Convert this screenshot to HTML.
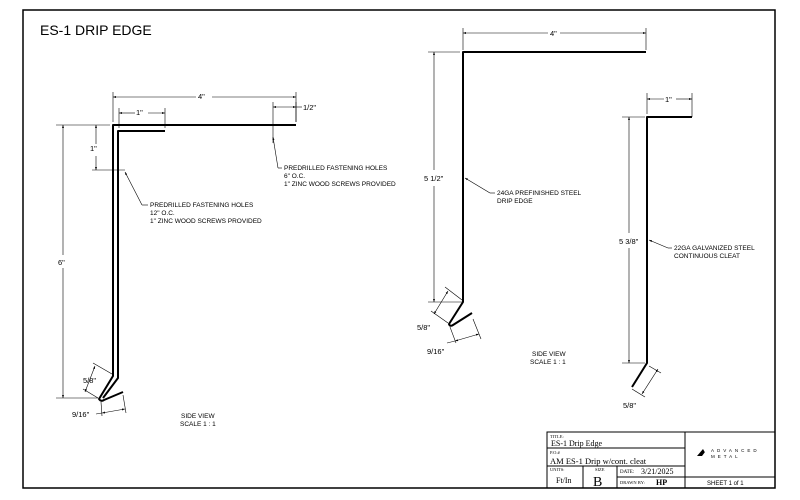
<!DOCTYPE html>
<html><head><meta charset="utf-8"><style>
html,body{margin:0;padding:0;background:#fff}
svg{display:block}
text{font-family:"Liberation Sans",sans-serif;fill:#000}
.s{font-size:6.5px}
.d{font-size:7.5px}
.th{stroke:#000;stroke-width:0.6;fill:none}
.k{stroke:#000;stroke-width:2;fill:none;stroke-linejoin:round}
</style></head><body>
<svg width="800" height="500" viewBox="0 0 800 500" xmlns="http://www.w3.org/2000/svg">
<defs><marker id="a" viewBox="0 0 6 6" refX="6" refY="3" markerWidth="5" markerHeight="5" orient="auto-start-reverse"><path d="M0,1 L6,3 L0,5z" fill="#000"/></marker></defs>
<rect x="23" y="10" width="752" height="478" fill="none" stroke="#000" stroke-width="1.5"/>
<text x="40" y="35" style="font-size:14px">ES-1 DRIP EDGE</text>

<!-- LEFT DRAWING -->
<path class="k" d="M296,125 H113 V376 L99,399 Q101,402 104,400 L123,392"/>
<path class="k" d="M165,131 H118 V378 L103,398"/>
<g class="th">
<line x1="113" y1="92" x2="113" y2="122"/><line x1="296" y1="92" x2="296" y2="122"/>
<line x1="113" y1="97" x2="196" y2="97" marker-start="url(#a)"/><line x1="212" y1="97" x2="296" y2="97" marker-end="url(#a)"/>
<line x1="119" y1="108" x2="119" y2="128"/><line x1="165" y1="108" x2="165" y2="128"/>
<line x1="119" y1="113" x2="135" y2="113" marker-start="url(#a)"/><line x1="148" y1="113" x2="165" y2="113" marker-end="url(#a)"/>
<line x1="273" y1="102" x2="273" y2="143"/><line x1="296" y1="102" x2="296" y2="122"/>
<line x1="273" y1="107" x2="296" y2="107" marker-start="url(#a)" marker-end="url(#a)"/><line x1="296" y1="107" x2="302" y2="107"/>
<line x1="56" y1="125" x2="110" y2="125"/><line x1="56" y1="398" x2="98" y2="398"/>
<line x1="63" y1="125" x2="63" y2="255" marker-start="url(#a)"/><line x1="63" y1="268" x2="63" y2="398" marker-end="url(#a)"/>
<line x1="92" y1="170" x2="125" y2="170"/>
<line x1="96" y1="125" x2="96" y2="144" marker-start="url(#a)"/><line x1="96" y1="156" x2="96" y2="170" marker-end="url(#a)"/>
<line x1="148" y1="205" x2="142" y2="205"/><line x1="142" y1="205" x2="125" y2="172" marker-end="url(#a)"/>
<line x1="282" y1="168" x2="278" y2="168"/><line x1="278" y1="168" x2="273" y2="137" marker-end="url(#a)"/>
<line x1="93" y1="363" x2="112" y2="374"/><line x1="83" y1="389" x2="98" y2="398"/>
<line x1="95" y1="366" x2="85" y2="392" marker-start="url(#a)" marker-end="url(#a)"/>
<line x1="101" y1="402" x2="102" y2="416"/><line x1="123" y1="395" x2="126" y2="413"/>
<line x1="102" y1="413" x2="125" y2="409" marker-start="url(#a)" marker-end="url(#a)"/><line x1="96" y1="414" x2="102" y2="413"/>
</g>
<text class="d" x="198" y="99">4"</text>
<text class="d" x="136" y="115">1"</text>
<text class="d" x="303" y="110">1/2"</text>
<text class="d" x="58" y="265">6"</text>
<text class="d" x="90" y="151">1"</text>
<text class="d" x="83" y="383">5/8"</text>
<text class="d" x="72" y="417">9/16"</text>
<text class="s" x="150" y="207">PREDRILLED FASTENING HOLES</text>
<text class="s" x="150" y="215">12" O.C.</text>
<text class="s" x="150" y="223">1" ZINC WOOD SCREWS PROVIDED</text>
<text class="s" x="284" y="170">PREDRILLED FASTENING HOLES</text>
<text class="s" x="284" y="178">6" O.C.</text>
<text class="s" x="284" y="186">1" ZINC WOOD SCREWS PROVIDED</text>
<text class="s" x="181" y="418">SIDE VIEW</text>
<text class="s" x="180" y="426">SCALE 1 : 1</text>

<!-- MIDDLE DRAWING -->
<path class="k" d="M646,52 H463 V302 L449,324 Q450,327 453,325 L472,313"/>
<g class="th">
<line x1="463" y1="28" x2="463" y2="50"/><line x1="646" y1="28" x2="646" y2="50"/>
<line x1="463" y1="33" x2="548" y2="33" marker-start="url(#a)"/><line x1="560" y1="33" x2="646" y2="33" marker-end="url(#a)"/>
<line x1="428" y1="52" x2="460" y2="52"/><line x1="428" y1="302" x2="462" y2="302"/>
<line x1="434" y1="52" x2="434" y2="170" marker-start="url(#a)"/><line x1="434" y1="186" x2="434" y2="302" marker-end="url(#a)"/>
<line x1="495" y1="193" x2="490" y2="193"/><line x1="490" y1="193" x2="465" y2="178" marker-end="url(#a)"/>
<line x1="445" y1="287" x2="462" y2="300"/><line x1="431" y1="311" x2="448" y2="323"/>
<line x1="448" y1="291" x2="434" y2="314" marker-start="url(#a)" marker-end="url(#a)"/>
<line x1="450" y1="327" x2="456" y2="343"/><line x1="473" y1="319" x2="481" y2="339"/>
<line x1="455" y1="341" x2="479" y2="334" marker-start="url(#a)" marker-end="url(#a)"/><line x1="447" y1="343" x2="455" y2="341"/>
</g>
<text class="d" x="550" y="36">4"</text>
<text class="d" x="424" y="181">5 1/2"</text>
<text class="d" x="417" y="330">5/8"</text>
<text class="d" x="427" y="354">9/16"</text>
<text class="s" x="497" y="195">24GA PREFINISHED STEEL</text>
<text class="s" x="497" y="203">DRIP EDGE</text>
<text class="s" x="532" y="356">SIDE VIEW</text>
<text class="s" x="530" y="364">SCALE 1 : 1</text>

<!-- RIGHT DRAWING -->
<path class="k" d="M692,117 H647 V363 L632,387"/>
<g class="th">
<line x1="647" y1="93" x2="647" y2="114"/><line x1="692" y1="93" x2="692" y2="117"/>
<line x1="647" y1="99" x2="664" y2="99" marker-start="url(#a)"/><line x1="676" y1="99" x2="692" y2="99" marker-end="url(#a)"/>
<line x1="622" y1="117" x2="645" y2="117"/><line x1="622" y1="363" x2="645" y2="363"/>
<line x1="629" y1="117" x2="629" y2="233" marker-start="url(#a)"/><line x1="629" y1="248" x2="629" y2="363" marker-end="url(#a)"/>
<line x1="672" y1="248" x2="668" y2="248"/><line x1="668" y1="248" x2="649" y2="240" marker-end="url(#a)"/>
<line x1="649" y1="366" x2="661" y2="373"/><line x1="632" y1="389" x2="645" y2="397"/>
<line x1="658" y1="369" x2="642" y2="394" marker-start="url(#a)" marker-end="url(#a)"/>
</g>
<text class="d" x="665" y="102">1"</text>
<text class="d" x="619" y="244">5 3/8"</text>
<text class="d" x="623" y="408">5/8"</text>
<text class="s" x="674" y="250">22GA GALVANIZED STEEL</text>
<text class="s" x="674" y="258">CONTINUOUS CLEAT</text>

<!-- TITLE BLOCK -->
<g stroke="#000" stroke-width="1" fill="none">
<rect x="547" y="432" width="228" height="56"/>
<line x1="685" y1="432" x2="685" y2="488"/>
<line x1="547" y1="448" x2="685" y2="448"/>
<line x1="547" y1="466" x2="685" y2="466"/>
<line x1="583" y1="466" x2="583" y2="488"/>
<line x1="617" y1="466" x2="617" y2="488"/>
<line x1="617" y1="477" x2="685" y2="477"/>
<line x1="685" y1="477" x2="775" y2="477"/>
</g>
<g style="font-family:'Liberation Serif',serif">
<text x="550" y="438" style="font-size:4.5px;font-family:'Liberation Serif',serif">TITLE:</text>
<text x="551" y="446" style="font-size:8px;font-family:'Liberation Serif',serif">ES-1 Drip Edge</text>
<text x="550" y="454" style="font-size:4.5px;font-family:'Liberation Serif',serif">P.O.#</text>
<text x="550" y="464" style="font-size:8.5px;font-family:'Liberation Serif',serif">AM ES-1 Drip w/cont. cleat</text>
<text x="550" y="471" style="font-size:4.5px;font-family:'Liberation Serif',serif">UNITS:</text>
<text x="556" y="483" style="font-size:8px;font-family:'Liberation Serif',serif">Ft/In</text>
<text x="595" y="471" style="font-size:4.5px;font-family:'Liberation Serif',serif">SIZE</text>
<text x="593" y="486" style="font-size:14px;font-family:'Liberation Serif',serif">B</text>
<text x="620" y="473" style="font-size:5px;font-family:'Liberation Serif',serif">DATE:</text>
<text x="641" y="474" style="font-size:8px;font-family:'Liberation Serif',serif">3/21/2025</text>
<text x="620" y="484" style="font-size:4.5px;font-family:'Liberation Serif',serif">DRAWN BY:</text>
<text x="656" y="485" style="font-size:8px;font-weight:bold;font-family:'Liberation Serif',serif">HP</text>
</g>
<path d="M697,456 L703,449 L707,456 Z" fill="#000"/><path d="M702,456 L705,452 L708,456Z" fill="#fff"/>
<text x="711" y="452" style="font-size:4.5px;letter-spacing:3px">ADVANCED</text>
<text x="711" y="458" style="font-size:4.5px;letter-spacing:3px">METAL</text>
<text x="707" y="485" style="font-size:6px">SHEET  1  of  1</text>
</svg>
</body></html>
